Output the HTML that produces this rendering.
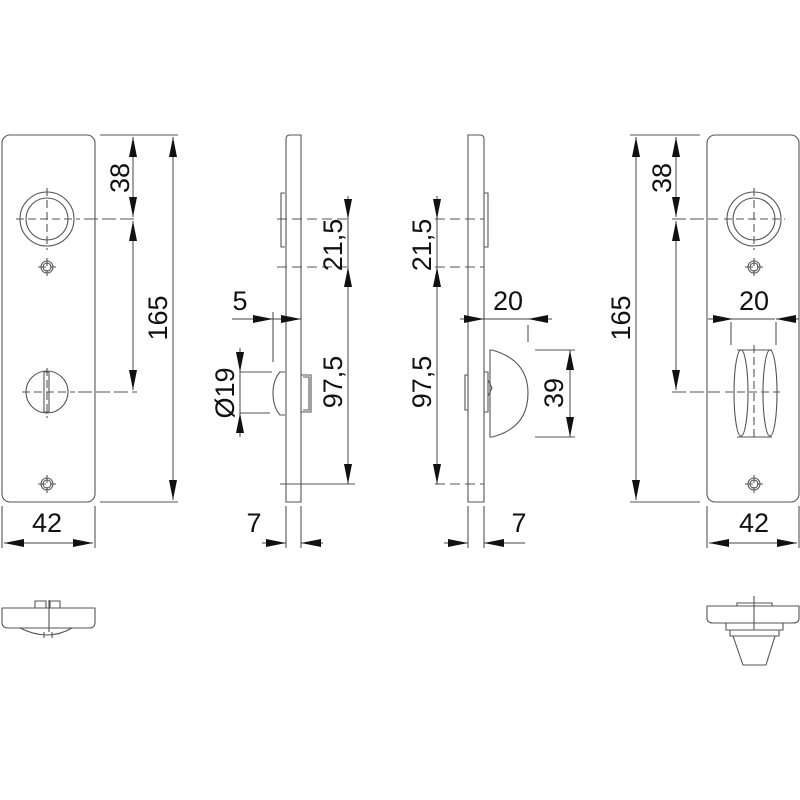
<!DOCTYPE html>
<html><head><meta charset="utf-8"><style>
html,body{margin:0;padding:0;background:#fff}
svg{display:block}
text{font-family:"Liberation Sans",sans-serif;font-size:27px;fill:#111}
</style></head><body>
<svg width="800" height="800" viewBox="0 0 800 800" xmlns="http://www.w3.org/2000/svg">
<defs>
<marker id="a" viewBox="0 0 20 8" refX="20" refY="4" markerWidth="20" markerHeight="8" markerUnits="userSpaceOnUse" orient="auto-start-reverse"><path d="M0,0L20,4L0,8z" fill="#111"/></marker>
</defs>
<g fill="none" stroke="#555" stroke-width="1.1">
<!-- LEFT PLATE -->
<rect x="2" y="135" width="93" height="367" rx="8"/>
<circle cx="47" cy="219" r="27"/><circle cx="47" cy="219" r="21"/>
<circle cx="47" cy="267" r="6"/><circle cx="47" cy="267" r="4"/>
<circle cx="47" cy="392" r="21"/>
<path d="M44,372V412M49,372V412M44,372H49M44,412H49"/>
<circle cx="47" cy="484" r="6"/><circle cx="47" cy="484" r="4"/>
<g stroke-dasharray="8,4"><path d="M16,219H80M47,188V250M22,392H75M47,368V418M38,267H56M47,258V276M38,484H56M47,475V493"/></g>
<path d="M84,219H137M78,392H137" stroke-dasharray="14,4"/>
<path d="M100,135H178M100,502H178M2,506V548M95,506V548"/>
<!-- SIDE 1 -->
<path d="M290,135H301V502H286V139Q286,135 290,135Z"/>
<path d="M285,193H281V247H285"/>
<path d="M285,372H280Q273,380 273,393Q273,407 280,415H285"/>
<path d="M301,375H311V412H301M303,377H309V410H303"/>
<path d="M277,219H350M277,267H350" stroke-dasharray="10,5"/>
<path d="M280,484H355"/>
<path d="M273,312V362M240,372H272M240,413H270M286,506V548M301,506V548"/>
<!-- SIDE 2 -->
<path d="M468,135H480Q484,135 484,139V502H468Z"/>
<path d="M484,193H488V247H484"/>
<path d="M468,375H465V410H468"/>
<path d="M484,372H488V412H484"/>
<path d="M490,350H492Q528,360 528,393Q528,428 492,437H490Z"/>
<path d="M488,380L492,388L488,396"/>
<path d="M435,219H484M435,267H484M435,484H484" stroke-dasharray="10,5"/>
<path d="M528,325V342M535,350H575M535,437H575M468,506V548M484,506V548"/>
<!-- RIGHT PLATE -->
<rect x="707" y="135" width="92" height="367" rx="8"/>
<circle cx="754" cy="219" r="27"/><circle cx="754" cy="219" r="21"/>
<circle cx="754" cy="267" r="6"/><circle cx="754" cy="267" r="4"/>
<circle cx="754" cy="484" r="6"/><circle cx="754" cy="484" r="4"/>
<path d="M737,350H772M737,437H772"/>
<ellipse cx="741" cy="393" rx="7" ry="43"/><ellipse cx="770" cy="393" rx="7" ry="43"/>
<g stroke-dasharray="8,4"><path d="M724,219H785M754,188V250M745,267H763M754,258V276M745,484H763M754,475V493M754,345V440M725,392H780"/></g>
<path d="M672,219H718M672,392H720" stroke-dasharray="14,4"/>
<path d="M630,135H700M630,502H700M707,506V548M799,506V548M731,322V345M776,322V345"/>
<!-- BOTTOM LEFT -->
<path d="M2,608H95V622Q95,628 89,628H8Q2,628 2,622Z"/>
<path d="M35,608V601H46V608M50,608V601H60V608M49,600V632"/>
<path d="M20,628Q48,642 72,628M44,632V638M52,632V638"/>
<!-- BOTTOM RIGHT -->
<path d="M707,606H799V618Q799,623 793,623H713Q707,623 707,618Z"/>
<path d="M737,606V603H772V606M754,596V630"/>
<path d="M726,623V630H783V623M730,630V636H779V630M733,636L743,665H766L775,636"/>
</g>
<g stroke="#444" stroke-width="1" fill="none">
<path d="M133,137V217" marker-start="url(#a)" marker-end="url(#a)"/>
<path d="M133,221V390" marker-start="url(#a)" marker-end="url(#a)"/>
<path d="M173,137V500" marker-start="url(#a)" marker-end="url(#a)"/>
<path d="M4,543H93" marker-start="url(#a)" marker-end="url(#a)"/>
<path d="M348,196V219" marker-end="url(#a)"/>
<path d="M348,219V267"/>
<path d="M348,267V484" marker-start="url(#a)" marker-end="url(#a)"/>
<path d="M232,319H273" marker-end="url(#a)"/>
<path d="M273,319H301" marker-end="url(#a)"/>
<path d="M240,348V372" marker-end="url(#a)"/>
<path d="M240,437V413" marker-end="url(#a)"/>
<path d="M240,372V413"/>
<path d="M262,543H286" marker-end="url(#a)"/>
<path d="M323,543H301" marker-end="url(#a)"/>
<path d="M437,196V219" marker-end="url(#a)"/>
<path d="M437,219V267"/>
<path d="M437,267V484" marker-start="url(#a)" marker-end="url(#a)"/>
<path d="M460,319H484" marker-end="url(#a)"/>
<path d="M484,319H528"/>
<path d="M552,319H528" marker-end="url(#a)"/>
<path d="M570,350V437" marker-start="url(#a)" marker-end="url(#a)"/>
<path d="M444,543H468" marker-end="url(#a)"/>
<path d="M484,543H525"/>
<path d="M508,543H484" marker-end="url(#a)"/>
<path d="M636,137V500" marker-start="url(#a)" marker-end="url(#a)"/>
<path d="M676,137V217" marker-start="url(#a)" marker-end="url(#a)"/>
<path d="M676,221V390" marker-start="url(#a)" marker-end="url(#a)"/>
<path d="M708,319H733" marker-end="url(#a)"/>
<path d="M733,319H775"/>
<path d="M799,319H776" marker-end="url(#a)"/>
<path d="M709,543H797" marker-start="url(#a)" marker-end="url(#a)"/>
</g>
<text transform="translate(129,178) rotate(-90)" text-anchor="middle">38</text>
<text transform="translate(167,318) rotate(-90)" text-anchor="middle">165</text>
<text x="47" y="532" text-anchor="middle">42</text>
<text transform="translate(342,245) rotate(-90)" text-anchor="middle">21,5</text>
<text transform="translate(342,382) rotate(-90)" text-anchor="middle">97,5</text>
<text x="240" y="310" text-anchor="middle">5</text>
<text transform="translate(234,393) rotate(-90)" text-anchor="middle">Ø19</text>
<text x="254" y="532" text-anchor="middle">7</text>
<text transform="translate(431,245) rotate(-90)" text-anchor="middle">21,5</text>
<text transform="translate(431,382) rotate(-90)" text-anchor="middle">97,5</text>
<text x="508" y="310" text-anchor="middle">20</text>
<text transform="translate(563,393) rotate(-90)" text-anchor="middle">39</text>
<text x="519" y="532" text-anchor="middle">7</text>
<text transform="translate(630,318) rotate(-90)" text-anchor="middle">165</text>
<text transform="translate(671,178) rotate(-90)" text-anchor="middle">38</text>
<text x="754" y="310" text-anchor="middle">20</text>
<text x="754" y="532" text-anchor="middle">42</text>
</svg>
</body></html>
